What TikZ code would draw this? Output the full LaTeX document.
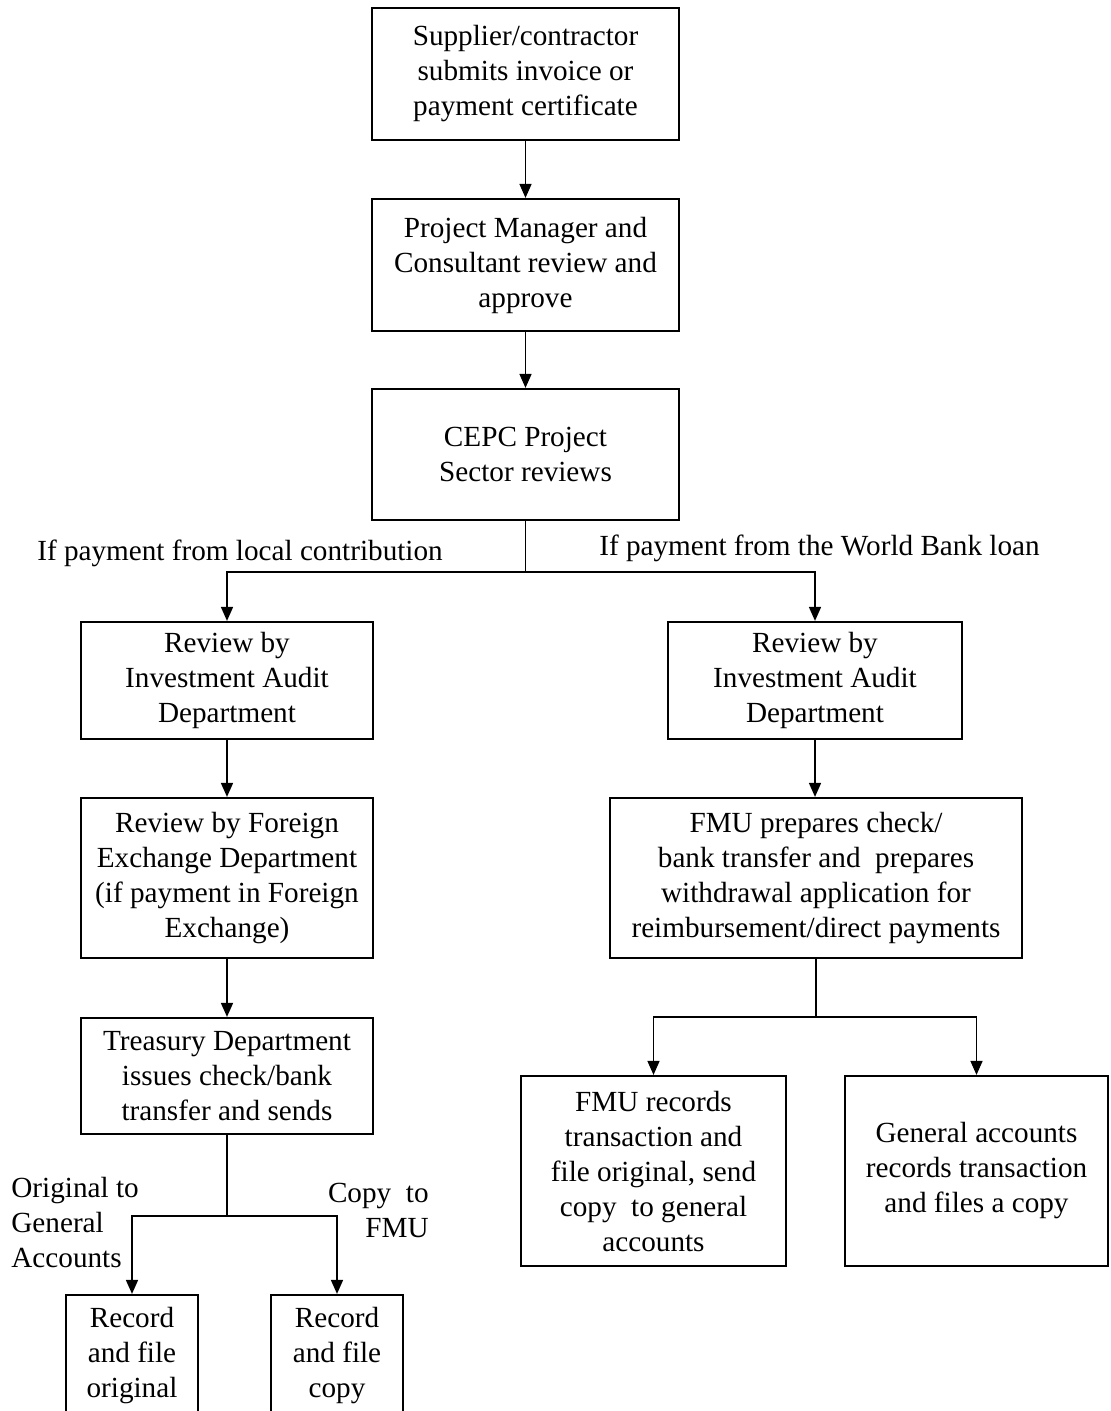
\documentclass[tikz,border=0pt]{standalone}
\usepackage{fontspec}
\setmainfont{Liberation Serif}
\usetikzlibrary{arrows.meta}

\tikzset{
  box/.style={draw, line width=1.1pt, align=center, inner sep=0pt,
    font=\fontsize{14.6}{17.5}\selectfont},
  flow/.style={-{Triangle[length=7pt,width=6pt]}, line width=0.8pt},
  link/.style={line width=0.8pt},
  lbl/.style={inner sep=0pt, font=\fontsize{14.6}{17.5}\selectfont}
}

\begin{document}
\begin{tikzpicture}[x=0.5pt,y=-0.5pt]
\useasboundingbox (0,0) rectangle (1110,1411);

% main column
\node[box, minimum width=153.5pt, minimum height=66pt] (supplier) at (525.5,74)
  {Supplier/contractor\\submits invoice or\\payment certificate};
\node[box, minimum width=153.5pt, minimum height=66pt] (pm) at (525.5,265)
  {Project Manager and\\Consultant review and\\approve};
\node[box, minimum width=153.5pt, minimum height=65.5pt] (cepc) at (525.5,454.5)
  {CEPC Project\\Sector reviews};

% local contribution branch
\node[box, minimum width=146pt, minimum height=58.5pt] (auditL) at (227,680.5)
  {Review by\\Investment Audit\\Department};
\node[box, minimum width=146pt, minimum height=80pt] (forex) at (227,878)
  {Review by Foreign\\Exchange Department\\(if payment in Foreign\\Exchange)};
\node[box, minimum width=146pt, minimum height=58pt] (treasury) at (227,1076)
  {Treasury Department\\issues check/bank\\transfer and sends};
\node[box, minimum width=66pt, minimum height=61pt] (recOrig) at (132,1356)
  {Record\\and file\\original};
\node[box, minimum width=66pt, minimum height=61pt] (recCopy) at (337,1356)
  {Record\\and file\\copy};

% World Bank loan branch
\node[box, minimum width=147pt, minimum height=58.5pt] (auditR) at (815,680.5)
  {Review by\\Investment Audit\\Department};
\node[box, minimum width=206pt, minimum height=80pt] (fmuprep) at (816,878)
  {FMU prepares check/\\bank transfer and~ prepares\\withdrawal application for\\reimbursement/direct payments};
\node[box, minimum width=132.5pt, minimum height=95pt] (fmurec) at (653.5,1171)
  {FMU records\\transaction and\\file original, send\\copy~ to general\\accounts};
\node[box, minimum width=131.5pt, minimum height=95pt] (genacc) at (976.5,1171)
  {General accounts\\records transaction\\and files a copy};

% labels
\node[lbl] (lblLocal) at (240,553) {If payment from local contribution};
\node[lbl] (lblBank) at (819.5,548) {If payment from the World Bank loan};
\node[lbl, align=left, anchor=west] (lblOrig) at (11,1222) {Original to\\General\\Accounts};
\node[lbl, align=right, anchor=east] (lblCopy) at (429,1210) {Copy~ to\\FMU};

% connectors
\draw[flow] (supplier) -- (pm);
\draw[flow] (pm) -- (cepc);
\draw[link] (cepc.south) -- ++(0,51) coordinate (split);
\draw[flow] (split) -| (auditL);
\draw[flow] (split) -| (auditR);
\draw[flow] (auditL) -- (forex);
\draw[flow] (forex) -- (treasury);
\draw[link] (treasury.south) -- ++(0,81) coordinate (splitL);
\draw[flow] (splitL) -| (recOrig);
\draw[flow] (splitL) -| (recCopy);
\draw[flow] (auditR) -- (fmuprep.north -| auditR);
\draw[link] (fmuprep.south) -- ++(0,58) coordinate (splitR);
\draw[flow] (splitR) -| (fmurec);
\draw[flow] (splitR) -| (genacc);
\end{tikzpicture}
\end{document}
